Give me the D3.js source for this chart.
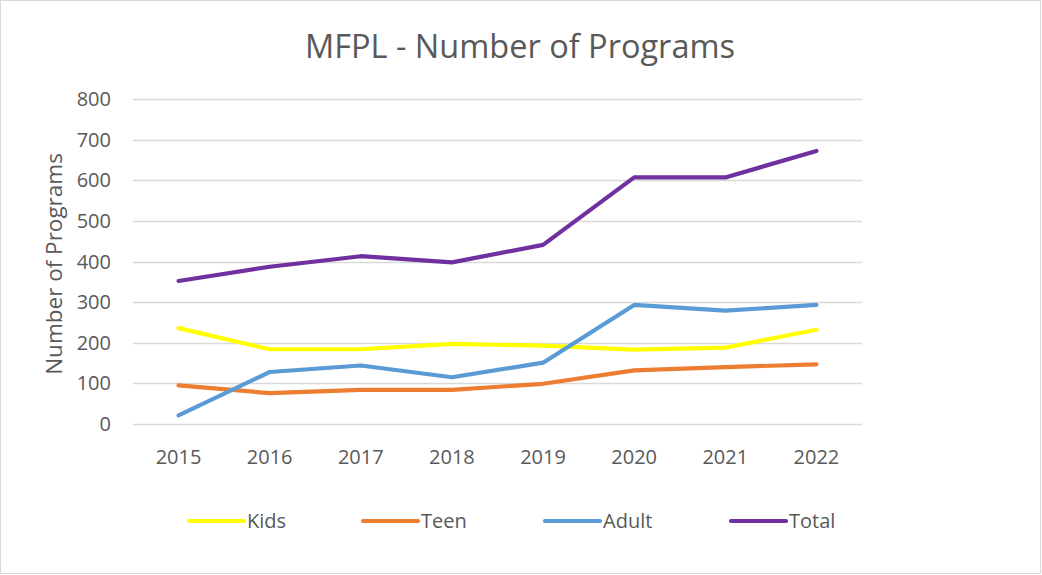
<!DOCTYPE html>
<html>
<head>
<meta charset="utf-8">
<script src="https://cdn.jsdelivr.net/npm/d3@7"></script>
<style>
  body { margin: 0; background: #fff; }
  text { font-family: "Open Sans", sans-serif; fill: #595959; }
</style>
</head>
<body>
<div id="chart"></div>
<script>
const years = ["2015", "2016", "2017", "2018", "2019", "2020", "2021", "2022"]
const kids = [236, 184, 184, 197, 193, 183, 188, 232]
const teen = [95, 76, 84, 84, 99, 132, 140, 147]
const adult = [21, 128, 144, 115, 151, 293, 279, 293]
const total = [352, 387, 413, 398, 441, 607, 607, 672]
const yTicks = [0, 100, 200, 300, 400, 500, 600, 700, 800]

const series = [
    { name: "Kids", values: kids, color: "#FFFF00" },
    { name: "Teen", values: teen, color: "#ED7D31" },
    { name: "Adult", values: adult, color: "#5B9BD5" },
    { name: "Total", values: total, color: "#7030A0" }
]

const width = 1042, height = 575

const svg = d3.select("#chart").append("svg")
    .attr("width", width)
    .attr("height", height)

// chart border
svg.append("rect")
    .attr("x", 0.5).attr("y", 0.5)
    .attr("width", width - 2).attr("height", height - 2)
    .attr("fill", "white")
    .attr("stroke", "#d9d9d9")

const plot = { left: 133, right: 862, top: 99, bottom: 424 }

const x = d3.scaleBand()
    .domain(years)
    .range([plot.left, plot.right])

const y = d3.scaleLinear()
    .domain([0, 800])
    .range([plot.bottom, plot.top])

// gridlines
svg.append("g")
    .selectAll("line")
    .data(yTicks)
    .join("line")
    .attr("x1", plot.left)
    .attr("x2", plot.right)
    .attr("y1", d => Math.round(y(d)) + 0.5)
    .attr("y2", d => Math.round(y(d)) + 0.5)
    .attr("stroke", "#d9d9d9")
    .attr("stroke-width", 1.3)

// y tick labels
svg.append("g")
    .selectAll("text")
    .data(yTicks)
    .join("text")
    .attr("x", 111)
    .attr("y", d => y(d))
    .attr("dy", "0.35em")
    .attr("text-anchor", "end")
    .style("font-size", "20px")
    .text(d => d)

// x tick labels
svg.append("g")
    .selectAll("text")
    .data(years)
    .join("text")
    .attr("x", d => x(d) + x.bandwidth() / 2)
    .attr("y", 464)
    .attr("text-anchor", "middle")
    .style("font-size", "20px")
    .text(d => d)

// axis title
svg.append("text")
    .attr("transform", "translate(62,264) rotate(-90)")
    .attr("text-anchor", "middle")
    .style("font-size", "22.5px")
    .text("Number of Programs")

// title
svg.append("text")
    .attr("x", 520)
    .attr("y", 58)
    .attr("text-anchor", "middle")
    .style("font-size", "32.5px")
    .text("MFPL - Number of Programs")

const line = d3.line()
    .x((d, i) => x(years[i]) + x.bandwidth() / 2)
    .y(d => y(d))

svg.append("g")
    .selectAll("path")
    .data(series)
    .join("path")
    .attr("d", d => line(d.values))
    .attr("fill", "none")
    .attr("stroke", d => d.color)
    .attr("stroke-width", 4.2)
    .attr("stroke-linecap", "round")
    .attr("stroke-linejoin", "round")

// legend
const legendX = [189, 363, 545, 731]
const legend = svg.append("g")
    .selectAll("g")
    .data(series)
    .join("g")
    .attr("transform", (d, i) => `translate(${legendX[i]},521)`)

legend.append("line")
    .attr("x1", 0).attr("x2", 55)
    .attr("stroke", d => d.color)
    .attr("stroke-width", 4.2)
    .attr("stroke-linecap", "round")

legend.append("text")
    .attr("x", 58)
    .attr("dy", "0.35em")
    .style("font-size", "20px")
    .text(d => d.name)
</script>
</body>
</html>
